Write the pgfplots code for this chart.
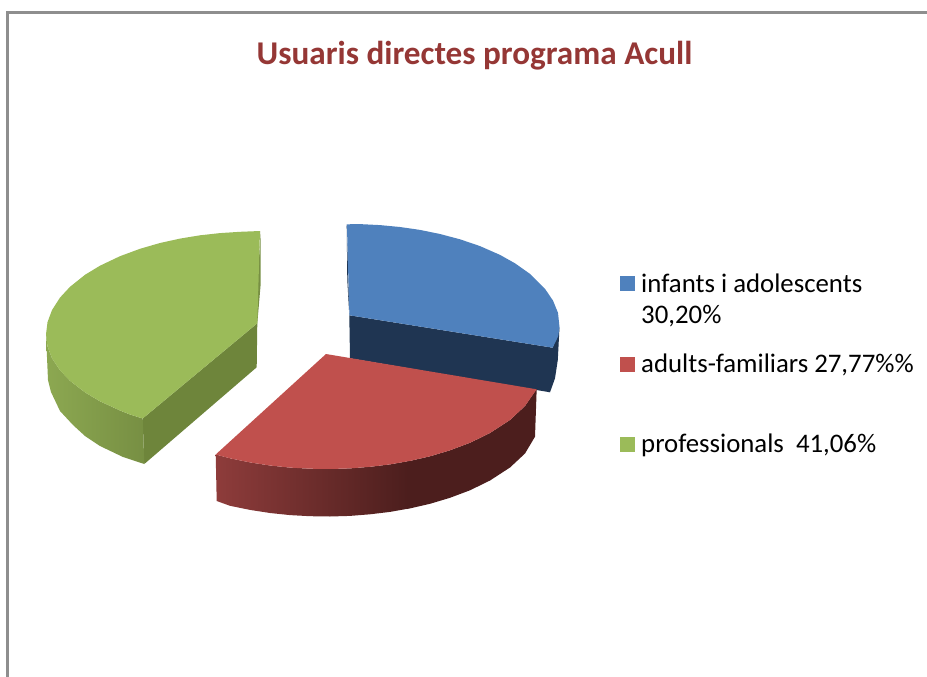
\documentclass[border=0pt]{standalone}
\usepackage{pgfplots}
\pgfplotsset{compat=1.18}
\usepackage{fontspec}
\setmainfont{Carlito}
\definecolor{cblue}{HTML}{4F81BD}
\definecolor{cbluedk}{HTML}{1F3552}
\definecolor{cred}{HTML}{C0504D}
\definecolor{credL}{HTML}{8E3C3B}
\definecolor{credD}{HTML}{4C1E1D}
\definecolor{cgreen}{HTML}{9BBB59}
\definecolor{cgreenL}{HTML}{8CA851}
\definecolor{cgreenR}{HTML}{778F43}
\definecolor{cgreendk}{HTML}{6E853B}
\definecolor{ctitle}{HTML}{953735}
\definecolor{cframe}{HTML}{8E8E8E}
\begin{document}
\begin{tikzpicture}[x=1pt,y=1pt]
\begin{axis}[
  at={(0,0)},anchor=south west,
  width=927pt,height=677pt,scale only axis,
  xmin=0,xmax=927,ymin=0,ymax=677,y dir=reverse,
  axis line style={draw=none},ticks=none,clip=true]
% frame
\addplot[draw=cframe,line width=2.4pt] coordinates {(7.5,677) (7.5,12.5) (927,12.5)};
% green slice
\addplot[fill=cgreendk,draw=none] coordinates {(142.7,418.5) (257.3,323.3) (256.7,367.3) (144.3,464)};
\addplot[left color=cgreenL,right color=cgreenR,draw=none] coordinates {
 (46,334.5) (47.5,346.4) (52,358.2) (60,370.3) (70,380.8) (85,392.4) (100,401.3) (120,410.5) (130,414.5) (142.7,418.5)
 (144.3,464) (123,457) (100,446) (85,436) (73,425) (60,411) (51,392) (48,380)};
\addplot[fill=cgreenR,draw=none] coordinates {(260.7,231) (260.6,285) (257.3,323.3) (255,323.3)};
\addplot[fill=cgreen,draw=none] coordinates {
 (260,231) (240,231.8) (220,233.1) (200,235.3) (180,238.6) (160,243) (140,248.8) (120,256.2) (100,265.7) (85,274.8)
 (70,286.8) (60,297.6) (52,310.1) (47.5,322.2) (46,334.5) (47.5,346.4) (52,358.2) (60,370.3) (70,380.8) (85,392.4)
 (100,401.3) (120,410.5) (130,414.5) (142.7,418.5) (257.3,323.3)};
% blue slice
\addplot[fill=cbluedk,draw=none] coordinates {
 (346.7,224.3) (347.3,280) (349.3,315.3) (350,358.3) (550,392.3) (555,378.3) (557.8,360) (559.5,327) (552.7,347.7) (349.3,315.3)};
\addplot[fill=cblue,draw=none] coordinates {
 (346.9,224.3) (360,224.1) (380,225.1) (400,227) (420,229.9) (440,234) (460,239.3) (480,246.1) (500,254.9) (515,263.3)
 (530,273.9) (545,288.8) (553,300.6) (558,312.8) (559.5,327) (558.3,336) (552.7,347.7) (349.4,315.3)};
% red slice
\addplot[left color=credL,right color=credD,draw=none] coordinates {
 (215.7,454.5) (230,458.3) (250,462.4) (270,465.5) (290,467.6) (310,468.7) (330,469) (350,468.4) (370,466.8) (390,464.4) (408,461.2)
 (408,508.7) (390,511.9) (370,514.3) (350,515.9) (330,516.5) (310,516.2) (290,515.1) (270,513) (250,509.9) (230,505.8) (216.7,501)};
\addplot[fill=credD,draw=none] coordinates {
 (407,461.4) (410,460.9) (430,456.3) (450,450.3) (470,442.8) (490,433) (510,420) (525,406) (536.7,388.7)
 (535,436.7) (525,453.5) (510,467.5) (490,480.5) (470,490.3) (450,497.8) (430,503.8) (410,508.4) (407,509)};
\addplot[fill=cred,draw=none] coordinates {
 (326,354) (536.7,389.3) (525,406) (510,420) (490,433) (470,442.8) (450,450.3) (430,456.3) (410,460.9) (390,464.4) (370,466.8)
 (350,468.4) (330,469) (310,468.7) (290,467.6) (270,465.5) (250,462.4) (230,458.3) (215.7,454.5)};
% legend keys
\addplot[fill=cblue,draw=none] coordinates {(620,276) (635,276) (635,291) (620,291)};
\addplot[fill=cred,draw=none] coordinates {(620,356.7) (635,356.7) (635,371.7) (620,371.7)};
\addplot[fill=cgreen,draw=none] coordinates {(620,437.3) (635,437.3) (635,452.3) (620,452.3)};
% text
\node[anchor=base west,inner sep=0pt,text=ctitle] at (axis cs:256.5,65) {\fontsize{33.2}{33}\selectfont\bfseries Usuaris directes programa Acull};
\node[anchor=base west,inner sep=0pt] at (axis cs:641,292) {\fontsize{26.8}{26}\selectfont infants i adolescents};
\node[anchor=base west,inner sep=0pt] at (axis cs:641,323) {\fontsize{26.8}{26}\selectfont 30,20\%};
\node[anchor=base west,inner sep=0pt] at (axis cs:641,372) {\fontsize{26.8}{26}\selectfont adults-familiars 27,77\%\%};
\node[anchor=base west,inner sep=0pt] at (axis cs:641,452.5) {\fontsize{26.8}{26}\selectfont professionals\ \ 41,06\%};
\end{axis}
\end{tikzpicture}
\end{document}
